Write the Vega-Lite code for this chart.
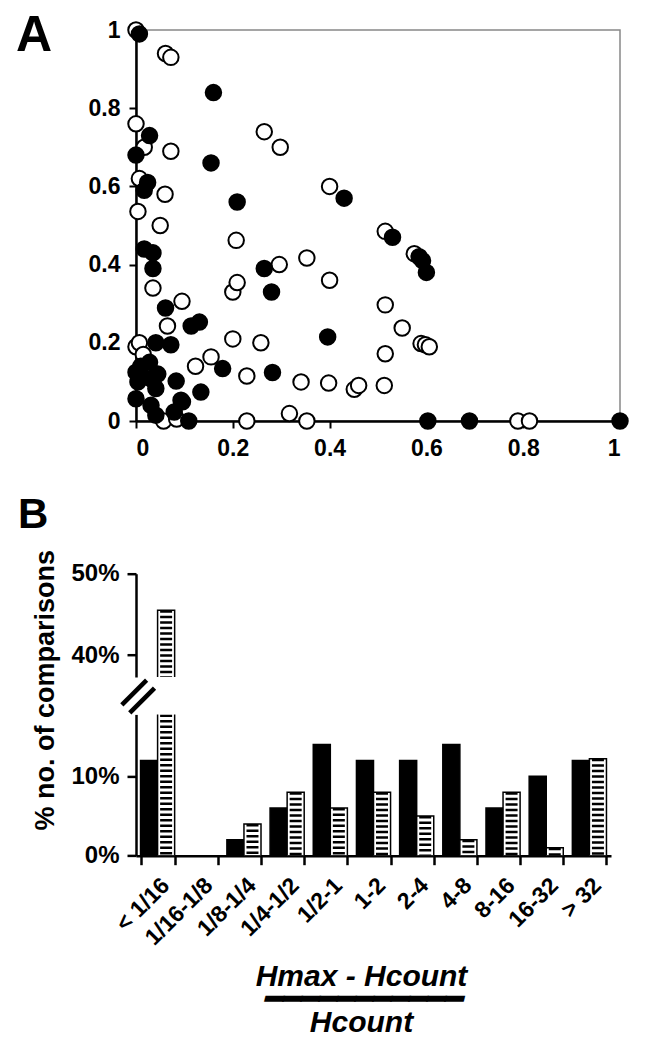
{
  "$schema": "https://vega.github.io/schema/vega-lite/v6.json",
  "padding": {"left": 15, "top": 10, "right": 10, "bottom": 5},
  "background": "white",
  "config": {
    "font": "Liberation Sans",
    "view": {"stroke": null},
    "axis": {
      "labelFont": "Liberation Sans",
      "labelFontWeight": "bold",
      "labelColor": "black",
      "domainColor": "black",
      "tickColor": "black",
      "titleColor": "black",
      "grid": false
    }
  },
  "datasets": {
    "bars": [
      {"cat": "< 1/16", "series": "solid", "value": 12},
      {"cat": "< 1/16", "series": "hatched", "value": 45.5},
      {"cat": "1/16-1/8", "series": "solid", "value": 0},
      {"cat": "1/16-1/8", "series": "hatched", "value": 0},
      {"cat": "1/8-1/4", "series": "solid", "value": 2},
      {"cat": "1/8-1/4", "series": "hatched", "value": 4},
      {"cat": "1/4-1/2", "series": "solid", "value": 6},
      {"cat": "1/4-1/2", "series": "hatched", "value": 8},
      {"cat": "1/2-1", "series": "solid", "value": 14},
      {"cat": "1/2-1", "series": "hatched", "value": 6},
      {"cat": "1-2", "series": "solid", "value": 12},
      {"cat": "1-2", "series": "hatched", "value": 8},
      {"cat": "2-4", "series": "solid", "value": 12},
      {"cat": "2-4", "series": "hatched", "value": 5},
      {"cat": "4-8", "series": "solid", "value": 14},
      {"cat": "4-8", "series": "hatched", "value": 2},
      {"cat": "8-16", "series": "solid", "value": 6},
      {"cat": "8-16", "series": "hatched", "value": 8},
      {"cat": "16-32", "series": "solid", "value": 10},
      {"cat": "16-32", "series": "hatched", "value": 1},
      {"cat": "> 32", "series": "solid", "value": 12},
      {"cat": "> 32", "series": "hatched", "value": 12.2}
    ]
  },
  "bounds": "flush",
  "spacing": 152.7,
  "vconcat": [
    {
      "width": 484,
      "height": 391,
      "view": {"stroke": "#888888", "strokeWidth": 1.5},
      "title": {"text": "A", "anchor": "start", "frame": "group", "fontSize": 50, "fontWeight": "bold", "font": "Liberation Sans", "color": "black", "baseline": "alphabetic", "offset": 0, "dx": -120, "dy": 83},
      "data": {"values": [
        {"x": 0, "y": 1, "type": "open"},
        {"x": 0.061, "y": 0.94, "type": "open"},
        {"x": 0.072, "y": 0.93, "type": "open"},
        {"x": 0, "y": 0.76, "type": "open"},
        {"x": 0.017, "y": 0.70, "type": "open"},
        {"x": 0.072, "y": 0.69, "type": "open"},
        {"x": 0.265, "y": 0.74, "type": "open"},
        {"x": 0.298, "y": 0.70, "type": "open"},
        {"x": 0.007, "y": 0.62, "type": "open"},
        {"x": 0.06, "y": 0.58, "type": "open"},
        {"x": 0.4, "y": 0.60, "type": "open"},
        {"x": 0.004, "y": 0.536, "type": "open"},
        {"x": 0.05, "y": 0.50, "type": "open"},
        {"x": 0.207, "y": 0.462, "type": "open"},
        {"x": 0.515, "y": 0.485, "type": "open"},
        {"x": 0.575, "y": 0.428, "type": "open"},
        {"x": 0.035, "y": 0.34, "type": "open"},
        {"x": 0.2, "y": 0.33, "type": "open"},
        {"x": 0.209, "y": 0.354, "type": "open"},
        {"x": 0.296, "y": 0.40, "type": "open"},
        {"x": 0.353, "y": 0.417, "type": "open"},
        {"x": 0.4, "y": 0.36, "type": "open"},
        {"x": 0.095, "y": 0.306, "type": "open"},
        {"x": 0.065, "y": 0.243, "type": "open"},
        {"x": 0, "y": 0.19, "type": "open"},
        {"x": 0.007, "y": 0.20, "type": "open"},
        {"x": 0.015, "y": 0.17, "type": "open"},
        {"x": 0.2, "y": 0.21, "type": "open"},
        {"x": 0.258, "y": 0.20, "type": "open"},
        {"x": 0.515, "y": 0.297, "type": "open"},
        {"x": 0.55, "y": 0.238, "type": "open"},
        {"x": 0.589, "y": 0.198, "type": "open"},
        {"x": 0.598, "y": 0.195, "type": "open"},
        {"x": 0.606, "y": 0.19, "type": "open"},
        {"x": 0.515, "y": 0.172, "type": "open"},
        {"x": 0.123, "y": 0.14, "type": "open"},
        {"x": 0.155, "y": 0.164, "type": "open"},
        {"x": 0.229, "y": 0.115, "type": "open"},
        {"x": 0.341, "y": 0.10, "type": "open"},
        {"x": 0.398, "y": 0.097, "type": "open"},
        {"x": 0.451, "y": 0.081, "type": "open"},
        {"x": 0.46, "y": 0.091, "type": "open"},
        {"x": 0.513, "y": 0.091, "type": "open"},
        {"x": 0.057, "y": 0, "type": "open"},
        {"x": 0.084, "y": 0.005, "type": "open"},
        {"x": 0.229, "y": 0, "type": "open"},
        {"x": 0.317, "y": 0.019, "type": "open"},
        {"x": 0.353, "y": 0, "type": "open"},
        {"x": 0.789, "y": 0, "type": "open"},
        {"x": 0.813, "y": 0, "type": "open"},
        {"x": 0.007, "y": 0.99, "type": "filled"},
        {"x": 0.16, "y": 0.84, "type": "filled"},
        {"x": 0.028, "y": 0.73, "type": "filled"},
        {"x": 0, "y": 0.68, "type": "filled"},
        {"x": 0.155, "y": 0.66, "type": "filled"},
        {"x": 0.024, "y": 0.61, "type": "filled"},
        {"x": 0.017, "y": 0.59, "type": "filled"},
        {"x": 0.209, "y": 0.56, "type": "filled"},
        {"x": 0.43, "y": 0.57, "type": "filled"},
        {"x": 0.53, "y": 0.47, "type": "filled"},
        {"x": 0.585, "y": 0.42, "type": "filled"},
        {"x": 0.592, "y": 0.41, "type": "filled"},
        {"x": 0.6, "y": 0.38, "type": "filled"},
        {"x": 0.017, "y": 0.44, "type": "filled"},
        {"x": 0.035, "y": 0.43, "type": "filled"},
        {"x": 0.035, "y": 0.39, "type": "filled"},
        {"x": 0.265, "y": 0.39, "type": "filled"},
        {"x": 0.28, "y": 0.33, "type": "filled"},
        {"x": 0.061, "y": 0.289, "type": "filled"},
        {"x": 0.114, "y": 0.243, "type": "filled"},
        {"x": 0.131, "y": 0.253, "type": "filled"},
        {"x": 0.041, "y": 0.20, "type": "filled"},
        {"x": 0.072, "y": 0.195, "type": "filled"},
        {"x": 0.396, "y": 0.215, "type": "filled"},
        {"x": 0.179, "y": 0.134, "type": "filled"},
        {"x": 0.282, "y": 0.124, "type": "filled"},
        {"x": 0.083, "y": 0.102, "type": "filled"},
        {"x": 0.134, "y": 0.074, "type": "filled"},
        {"x": 0.096, "y": 0.049, "type": "filled"},
        {"x": 0.079, "y": 0.023, "type": "filled"},
        {"x": 0.109, "y": 0, "type": "filled"},
        {"x": 0.603, "y": 0, "type": "filled"},
        {"x": 0.689, "y": 0, "type": "filled"},
        {"x": 1, "y": 0, "type": "filled"},
        {"x": 0, "y": 0.125, "type": "filled"},
        {"x": 0.004, "y": 0.10, "type": "filled"},
        {"x": 0.028, "y": 0.15, "type": "filled"},
        {"x": 0.031, "y": 0.108, "type": "filled"},
        {"x": 0, "y": 0.057, "type": "filled"},
        {"x": 0.031, "y": 0.04, "type": "filled"},
        {"x": 0.041, "y": 0.015, "type": "filled"},
        {"x": 0.041, "y": 0.083, "type": "filled"},
        {"x": 0.093, "y": 0.053, "type": "filled"},
        {"x": 0.01, "y": 0.14, "type": "filled"},
        {"x": 0.045, "y": 0.12, "type": "filled"}
      ]},
      "mark": {"type": "point", "shape": "circle", "filled": true, "size": 240, "stroke": "black", "strokeWidth": 2, "opacity": 1},
      "encoding": {
        "x": {"field": "x", "type": "quantitative", "scale": {"domain": [0, 1], "nice": false},
          "axis": {"title": null, "values": [0, 0.2, 0.4, 0.6, 0.8, 1], "format": "~g", "labelFontSize": 23, "tickSize": 7, "tickWidth": 2, "domainWidth": 2.5, "labelPadding": 9}},
        "y": {"field": "y", "type": "quantitative", "scale": {"domain": [0, 1], "nice": false},
          "axis": {"title": null, "values": [0, 0.2, 0.4, 0.6, 0.8, 1], "format": "~g", "labelFontSize": 23, "tickSize": 7, "tickWidth": 2, "domainWidth": 2.5, "labelPadding": 9}},
        "fill": {"condition": {"test": "datum.type === 'filled'", "value": "black"}, "value": "white"}
      }
    },
    {
      "bounds": "flush",
      "spacing": 36.7,
      "vconcat": [
        {
          "width": 475,
          "height": 103.3,
          "title": {"text": "B", "anchor": "start", "frame": "group", "fontSize": 42, "fontWeight": "bold", "font": "Liberation Sans", "color": "black", "baseline": "alphabetic", "offset": 0, "dx": -118, "dy": 21},
          "data": {"name": "bars"},
          "encoding": {
            "x": {"field": "cat", "type": "nominal", "sort": ["< 1/16", "1/16-1/8", "1/8-1/4", "1/4-1/2", "1/2-1", "1-2", "2-4", "4-8", "8-16", "16-32", "> 32"], "scale": {"paddingInner": 0.21, "paddingOuter": 0.105}, "axis": null},
            "xOffset": {"field": "series", "type": "nominal", "sort": ["solid", "hatched"]}
          },
          "layer": [
            {
              "mark": {"type": "bar", "clip": true, "stroke": "black", "strokeWidth": 1.5},
              "encoding": {
                "y": {"field": "value", "type": "quantitative", "scale": {"domain": [37.3, 50], "nice": false, "zero": false},
                  "axis": {"values": [40, 50], "labelExpr": "datum.value + '%'", "labelFontSize": 24, "tickSize": 9, "tickWidth": 2.5, "domainWidth": 2.5, "labelPadding": 8,
                    "title": "% no. of comparisons", "titleFontSize": 27, "titleFontWeight": "bold", "titleFont": "Liberation Sans", "titleAngle": -90, "titleX": -83, "titleY": 116, "titleAlign": "center", "titleBaseline": "alphabetic", "titleAnchor": null}},
                "fill": {"condition": {"test": "datum.series === 'solid'", "value": "black"}, "value": "white"}
              }
            },
            {
              "transform": [{"filter": "datum.series === 'hatched'"}],
              "mark": {"type": "rule", "clip": true, "color": "black", "strokeWidth": 12, "strokeDash": [2.5, 3]},
              "encoding": {
                "y": {"field": "value", "type": "quantitative"},
                "y2": {"datum": 0}
              }
            }
          ]
        },
        {
          "width": 475,
          "height": 141.3,
          "data": {"name": "bars"},
          "encoding": {
            "x": {"field": "cat", "type": "nominal", "sort": ["< 1/16", "1/16-1/8", "1/8-1/4", "1/4-1/2", "1/2-1", "1-2", "2-4", "4-8", "8-16", "16-32", "> 32"], "scale": {"paddingInner": 0.21, "paddingOuter": 0.105},
              "axis": {"labelAngle": -45, "labelFontSize": 23, "tickBand": "extent", "tickSize": 9, "tickWidth": 2.5, "domainWidth": 2.5, "labelPadding": 9,
                "title": ["Hmax - Hcount", "━━━━━━━━━━━", "Hcount"], "titleFontSize": 30, "titleFontWeight": "bold", "titleFontStyle": "italic", "titleFont": "Liberation Sans", "titleLineHeight": 23, "titleX": 225, "titleY": 106, "titleAlign": "center", "titleBaseline": "top", "titleAnchor": null}},
            "xOffset": {"field": "series", "type": "nominal", "sort": ["solid", "hatched"]}
          },
          "layer": [
            {
              "mark": {"type": "bar", "clip": true, "stroke": "black", "strokeWidth": 1.5},
              "encoding": {
                "y": {"field": "value", "type": "quantitative", "scale": {"domain": [0, 17.8], "nice": false},
                  "axis": {"values": [0, 10], "labelExpr": "datum.value + '%'", "labelFontSize": 24, "tickSize": 9, "tickWidth": 2.5, "domainWidth": 2.5, "labelPadding": 8,
                    "title": "=", "titleFont": "DejaVu Sans", "titleFontWeight": "normal", "titleFontSize": 56, "titleAngle": -45, "titleX": 2, "titleY": -18, "titleAlign": "center", "titleBaseline": "middle", "titleAnchor": null}},
                "fill": {"condition": {"test": "datum.series === 'solid'", "value": "black"}, "value": "white"}
              }
            },
            {
              "transform": [{"filter": "datum.series === 'hatched'"}],
              "mark": {"type": "rule", "clip": true, "color": "black", "strokeWidth": 12, "strokeDash": [2.5, 3]},
              "encoding": {
                "y": {"field": "value", "type": "quantitative"},
                "y2": {"datum": 0}
              }
            }
          ]
        }
      ]
    }
  ]
}
